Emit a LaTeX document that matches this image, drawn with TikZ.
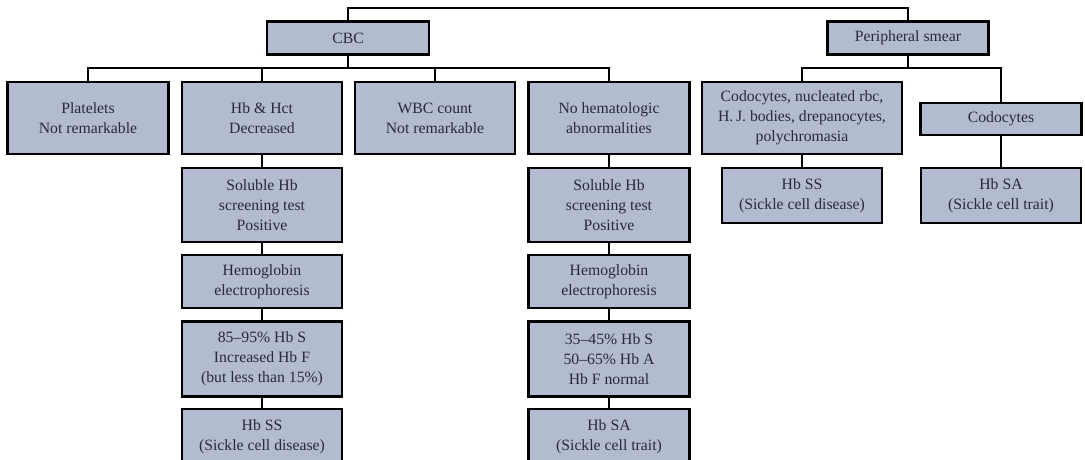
\documentclass[tikz,border=0pt]{standalone}
\usepackage{fontspec}
\setmainfont{Liberation Serif}
\definecolor{boxfill}{RGB}{179,187,209}
\definecolor{boxtext}{RGB}{40,42,58}
\tikzset{
  box/.style={draw=black,fill=boxfill,line width=1.9pt,text=boxtext,align=center,
    inner sep=1pt,font=\fontsize{11.8}{15}\selectfont},
  sz/.style 2 args={minimum width=#1*0.75pt,minimum height=#2*0.75pt},
  link/.style={line width=1.7pt}
}
\begin{document}
\begin{tikzpicture}[x=0.75pt,y=-0.75pt,line cap=rect,line join=miter]
  \clip (0,0) rectangle (1085,460);
  % first level
  \node[box,sz={162}{33}] (cbc) at (348,38) {CBC};
  \node[box,sz={161}{33}] (smear) at (908,38) {Peripheral smear};
  % blood count
  \node[box,sz={161}{72}] (plt) at (88,118) {Platelets\\Not remarkable};
  \node[box,sz={160}{72}] (hct) at (262,118) {Hb \& Hct\\Decreased};
  \node[box,sz={160}{72}] (wbc) at (435,118) {WBC count\\Not remarkable};
  \node[box,sz={161}{72}] (noab) at (609,118) {No hematologic\\abnormalities};
  % smear
  \node[box,sz={200}{72}] (codoa) at (802,118) {Codocytes, nucleated rbc,\\H.\,J. bodies, drepanocytes,\\polychromasia};
  \node[box,sz={161}{32}] (codob) at (1001,119) {Codocytes};
  \node[box,sz={160}{55}] (ssb) at (802,195.5) {Hb SS\\(Sickle cell disease)};
  \node[box,sz={160}{55}] (sab) at (1001,195.5) {Hb SA\\(Sickle cell trait)};
  % left column
  \node[box,sz={160}{74}] (sola) at (262,205) {Soluble Hb\\screening test\\Positive};
  \node[box,sz={160}{53}] (elea) at (262,281.5) {Hemoglobin\\electrophoresis};
  \node[box,sz={160}{75}] (resa) at (262,359) {85--95\% Hb S\\Increased Hb F\\(but less than 15\%)};
  \node[box,sz={160}{55}] (ssa) at (262,436.5) {Hb SS\\(Sickle cell disease)};
  % right column
  \node[box,sz={161}{74}] (solb) at (609,205) {Soluble Hb\\screening test\\Positive};
  \node[box,sz={161}{53}] (eleb) at (609,281.5) {Hemoglobin\\electrophoresis};
  \node[box,sz={161}{75}] (resb) at (609,359) {35--45\% Hb S\\50--65\% Hb A\\Hb F normal};
  \node[box,sz={161}{55}] (saa) at (609,436.5) {Hb SA\\(Sickle cell trait)};
  % connectors
  \coordinate (toprow) at (0,8);
  \coordinate (busrow) at (0,68);
  \draw[link] (cbc.north) -- (cbc.north |- toprow) -| (smear.north);
  \draw[link] (cbc.south) -- (cbc.south |- busrow);
  \draw[link] (plt.north) |- (cbc.south |- busrow) -| (noab.north);
  \draw[link] (hct.north) -- (hct.north |- busrow);
  \draw[link] (wbc.north) -- (wbc.north |- busrow);
  \draw[link] (smear.south) -- (smear.south |- busrow);
  \draw[link] (codoa.north) |- (smear.south |- busrow) -| (codob.north);
  \draw[link] (codoa) -- (ssb);
  \draw[link] (codob) -- (sab);
  \draw[link] (hct) -- (sola) -- (elea) -- (resa) -- (ssa);
  \draw[link] (noab) -- (solb) -- (eleb) -- (resb) -- (saa);
\end{tikzpicture}
\end{document}
